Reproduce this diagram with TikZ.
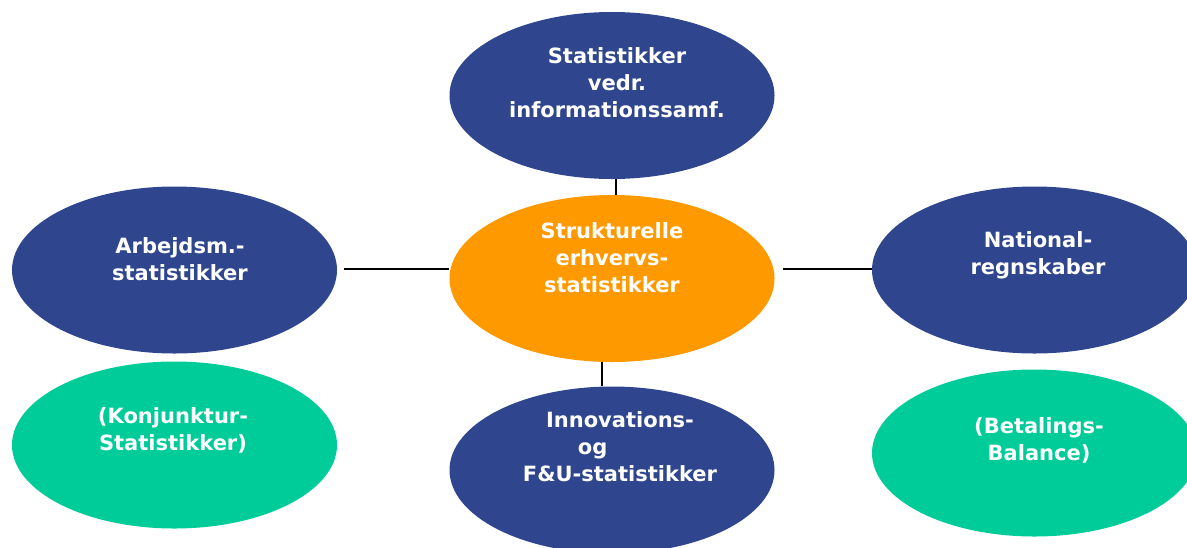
\documentclass[tikz,border=0pt]{standalone}
\usepackage{fontspec}
\setmainfont{DejaVu Sans}
\usetikzlibrary{shapes.geometric,calc}
\definecolor{navy}{RGB}{47,70,142}
\definecolor{orng}{RGB}{255,153,0}
\definecolor{grn}{RGB}{0,204,153}
\begin{document}
\begin{tikzpicture}[x=0.75pt,y=-0.75pt,
  oval/.style={ellipse, minimum width=243.75pt, minimum height=125.25pt, inner sep=0pt, draw=none},
  lbl/.style={text=white, font=\bfseries\fontsize{15.75}{20.25}\selectfont, align=center, inner sep=0pt},
  link/.style={draw=black, line width=1.3pt}]
\useasboundingbox (0,0) rectangle (1187,547);
\clip (0,0) rectangle (1187,547);
\node[oval, fill=navy] (top) at (612,95.5) {};
\node[oval, fill=orng] (core) at (612,278.5) {};
\node[oval, fill=navy] (left) at (174.5,270) {};
\node[oval, fill=navy] (right) at (1034.5,270) {};
\node[oval, fill=navy] (bottom) at (612,470) {};
\node[oval, fill=grn] (gleft) at (174.5,445) {};
\node[oval, fill=grn] (gright) at (1034.5,453) {};
\node[lbl] (toptxt) at (617,83) {Statistikker\\vedr.\\informationssamf.};
\node[lbl] (coretxt) at (612,258) {Strukturelle\\erhvervs-\\statistikker};
\node[lbl] (lefttxt) at (180,259) {Arbejdsm.-\\statistikker};
\node[lbl] (glefttxt) at (173,430) {(Konjunktur-\\Statistikker)};
\node[lbl] (righttxt) at (1038,255) {National-\\regnskaber};
\node[lbl] (grighttxt) at (1039,440) {(Betalings-\\Balance)};
\node[lbl] (bottomtxt) at (620,447) {Innovations-\\og\rule{2.6em}{0pt}\\F\&U-statistikker};
\draw[link] ([xshift=3pt]top.south) -- ([xshift=3pt]core.north);
\draw[link] ($(left.east)+(5pt,0.75pt)$) -- ($(left.east -| core.west)+(0,0.75pt)$);
\draw[link] ($(core.east |- right.west)+(6pt,0.75pt)$) -- ($(right.west)+(0,0.75pt)$);
\draw[link] ([xshift=-7.5pt]core.south) -- ([xshift=-7.5pt]bottom.north);
\end{tikzpicture}
\end{document}
